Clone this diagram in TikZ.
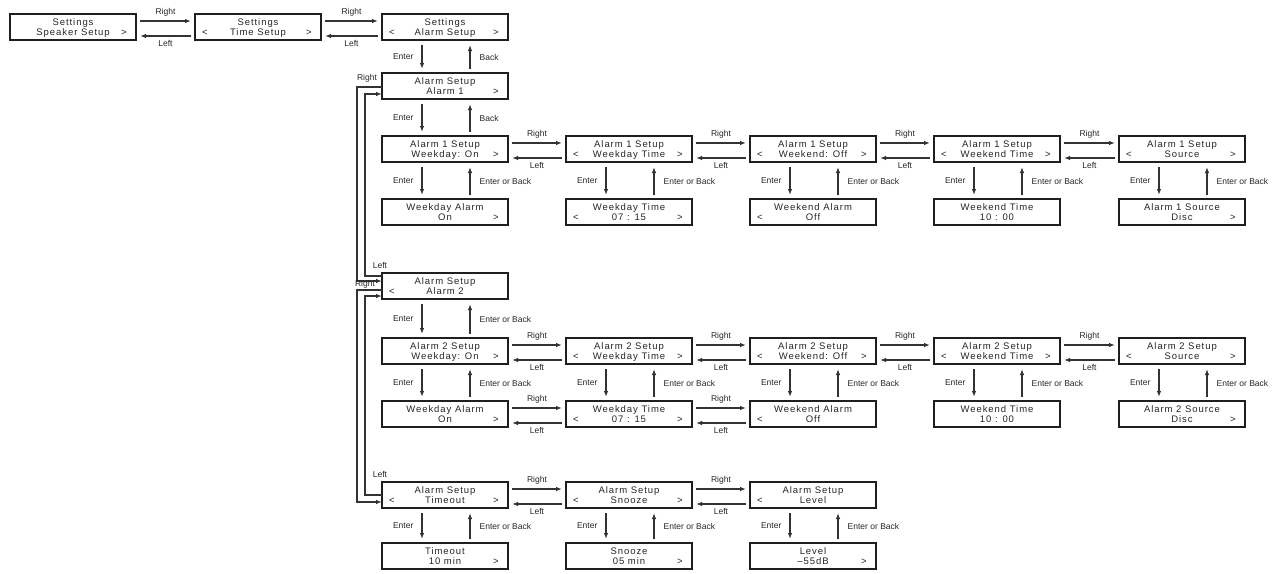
\documentclass[tikz,border=0pt]{standalone}
\usepackage{fontspec}
\setmainfont{Liberation Sans}
\newfontfamily\lcdfont[LetterSpace=10]{Liberation Sans}
\usetikzlibrary{arrows.meta}

\newcommand\scr[6][]{%
  \node[box,#1] (#2) at ({#3+63},{#4+13}) {};
  \node[lcd] (#2-a) at ([yshift=-8pt]#2.north) {#5};
  \node[lcd] (#2-b) at ([yshift=8.5pt]#2.south) {#6};
}
\newcommand\lt[1]{\node[lcd] (#1-lt) at ([xshift=10pt,yshift=8.5pt]#1.south west) {<};}
\newcommand\rt[1]{\node[lcd] (#1-rt) at ([xshift=-12pt,yshift=8.5pt]#1.south east) {>};}
\newcommand\hp[2]{%
  \draw[arr] ([xshift=4pt,yshift=-7pt]#1.north east) -- node[lab,above=4pt] (#1-#2-r) {Right} ([xshift=-4pt,yshift=-7pt]#2.north west);
  \draw[arr] ([xshift=-4pt,yshift=4pt]#2.south west) -- node[lab,below=4pt] (#1-#2-l) {Left} ([xshift=4pt,yshift=4pt]#1.south east);
}
\newcommand\vp[3]{%
  \draw[arr] ([xshift=40pt,yshift=-5pt]#1.south west) -- node[lab,left=8pt] (#1-#2-e) {Enter} ([xshift=40pt,yshift=4pt]#2.north west);
  \draw[arr] ([xshift=88pt,yshift=4pt]#2.north west) -- node[lab,right=9pt] (#1-#2-b) {#3} ([xshift=88pt,yshift=-5pt]#1.south west);
}

\begin{document}
\begin{tikzpicture}[x=1pt,y=-1pt,
  box/.style={draw=black!88,fill=white,line width=1.6pt,minimum width=126pt,minimum height=26pt,inner sep=0pt,outer sep=0pt},
  thickbox/.style={line width=2.8pt},
  midbox/.style={line width=2.2pt},
  lcd/.style={font=\lcdfont\fontsize{9.5}{10}\selectfont,inner sep=0pt,text height=7pt,text depth=0pt,text=black!85},
  lab/.style={font=\fontsize{8.5}{9}\selectfont,inner sep=0pt,text=black!85},
  arr/.style={draw=black!80,line width=1.3pt,-{Latex[length=6pt,width=4.5pt]}},
]
\useasboundingbox (0,0) rectangle (1276,573);

% ---- top row
\scr{s0}{10}{14}{Settings}{Speaker Setup}\rt{s0}
\scr{s1}{195}{14}{Settings}{Time Setup}\lt{s1}\rt{s1}
\scr{s2}{382}{14}{Settings}{Alarm Setup}\lt{s2}\rt{s2}
\hp{s0}{s1}\hp{s1}{s2}

% ---- alarm 1
\scr{al1}{382}{73}{Alarm Setup}{Alarm 1}\rt{al1}
\vp{s2}{al1}{Back}

\scr{a1a}{382}{136}{Alarm 1 Setup}{Weekday: On}\rt{a1a}
\scr{a1b}{566}{136}{Alarm 1 Setup}{Weekday Time}\lt{a1b}\rt{a1b}
\scr{a1c}{750}{136}{Alarm 1 Setup}{Weekend: Off}\lt{a1c}\rt{a1c}
\scr[midbox]{a1d}{934}{136}{Alarm 1 Setup}{Weekend Time}\lt{a1d}\rt{a1d}
\scr[midbox]{a1e}{1119}{136}{Alarm 1 Setup}{Source}\lt{a1e}\rt{a1e}
\vp{al1}{a1a}{Back}
\hp{a1a}{a1b}\hp{a1b}{a1c}\hp{a1c}{a1d}\hp{a1d}{a1e}

\scr[thickbox]{v1a}{382}{199}{Weekday Alarm}{On}\rt{v1a}
\scr{v1b}{566}{199}{Weekday Time}{07 : 15}\lt{v1b}\rt{v1b}
\scr[thickbox]{v1c}{750}{199}{Weekend Alarm}{Off}\lt{v1c}
\scr[thickbox]{v1d}{934}{199}{Weekend Time}{10 : 00}
\scr[thickbox]{v1e}{1119}{199}{Alarm 1 Source}{Disc}\rt{v1e}
\vp{a1a}{v1a}{Enter or Back}\vp{a1b}{v1b}{Enter or Back}\vp{a1c}{v1c}{Enter or Back}
\vp{a1d}{v1d}{Enter or Back}\vp{a1e}{v1e}{Enter or Back}

% ---- alarm 2
\scr{al2}{382}{273}{Alarm Setup}{Alarm 2}\lt{al2}
\scr{a2a}{382}{338}{Alarm 2 Setup}{Weekday: On}\rt{a2a}
\scr{a2b}{566}{338}{Alarm 2 Setup}{Weekday Time}\lt{a2b}\rt{a2b}
\scr{a2c}{750}{338}{Alarm 2 Setup}{Weekend: Off}\lt{a2c}\rt{a2c}
\scr{a2d}{934}{338}{Alarm 2 Setup}{Weekend Time}\lt{a2d}\rt{a2d}
\scr{a2e}{1119}{338}{Alarm 2 Setup}{Source}\lt{a2e}\rt{a2e}
\vp{al2}{a2a}{Enter or Back}
\hp{a2a}{a2b}\hp{a2b}{a2c}\hp{a2c}{a2d}\hp{a2d}{a2e}

\scr[thickbox]{v2a}{382}{401}{Weekday Alarm}{On}\rt{v2a}
\scr{v2b}{566}{401}{Weekday Time}{07 : 15}\lt{v2b}\rt{v2b}
\scr[thickbox]{v2c}{750}{401}{Weekend Alarm}{Off}\lt{v2c}
\scr{v2d}{934}{401}{Weekend Time}{10 : 00}
\scr{v2e}{1119}{401}{Alarm 2 Source}{Disc}\rt{v2e}
\vp{a2a}{v2a}{Enter or Back}\vp{a2b}{v2b}{Enter or Back}\vp{a2c}{v2c}{Enter or Back}
\vp{a2d}{v2d}{Enter or Back}\vp{a2e}{v2e}{Enter or Back}
\hp{v2a}{v2b}\hp{v2b}{v2c}

% ---- timeout / snooze / level
\scr{t1}{382}{482}{Alarm Setup}{Timeout}\lt{t1}\rt{t1}
\scr{t2}{566}{482}{Alarm Setup}{Snooze}\lt{t2}\rt{t2}
\scr{t3}{750}{482}{Alarm Setup}{Level}\lt{t3}
\hp{t1}{t2}\hp{t2}{t3}
\scr{u1}{382}{543}{Timeout}{10 min}\rt{u1}
\scr{u2}{566}{543}{Snooze}{05 min}\rt{u2}
\scr{u3}{750}{543}{Level}{–55dB}\rt{u3}
\vp{t1}{u1}{Enter or Back}\vp{t2}{u2}{Enter or Back}\vp{t3}{u3}{Enter or Back}

% ---- loop connectors on the left
\draw[arr] ([yshift=-14pt]al1.north west) -- ++(-25,0) |- ([yshift=-8pt]al2.north west);
\draw[arr] ([yshift=-3pt]al2.north west) -- ++(-17,0) |- ([yshift=-21pt]al1.north west);
\draw[arr] ([yshift=-17pt]al2.north west) -- ++(-25,0) |- ([yshift=-20pt]t1.north west);
\draw[arr] ([yshift=-13pt]t1.north west) -- ++(-17,0) |- ([yshift=-23pt]al2.north west);
\node[lab] (lp1) at ([xshift=-15pt,yshift=-5pt]al1.north west) {Right};
\node[lab] (lp2) at ([xshift=-2pt,yshift=8pt]al2.north west) {Left};
\node[lab] (lp3) at ([xshift=-17pt,yshift=-11pt]al2.north west) {Right};
\node[lab] (lp4) at ([xshift=-2pt,yshift=8pt]t1.north west) {Left};
\end{tikzpicture}
\end{document}
